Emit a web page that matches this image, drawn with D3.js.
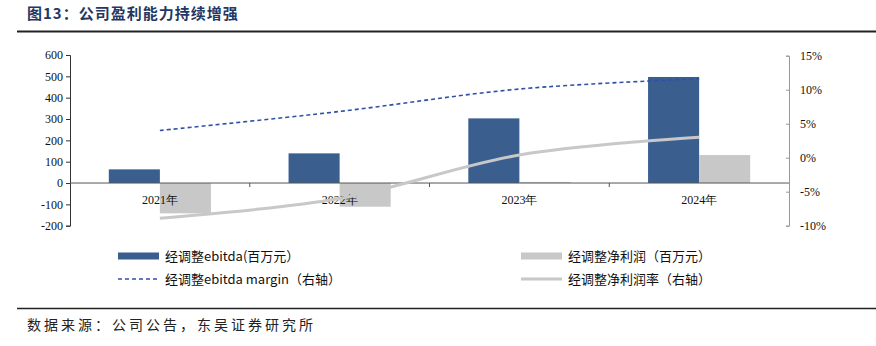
<!DOCTYPE html>
<html><head><meta charset="utf-8">
<script src="https://cdn.jsdelivr.net/npm/d3@7"></script>
<style>body{margin:0;background:#fff}svg{display:block}</style>
</head><body>
<svg id="c" width="876" height="346"></svg>
<script>
const categories = ["2021年","2022年","2023年","2024年"];
const ebitda = [64, 139, 303, 497];
const netProfit = [-142, -111, 5, 131];
const ebitdaMargin = [4.0, 6.8, 10.1, 11.6];
const netMargin = [-8.9, -6.0, 0.4, 3.0];
const leftTicks = [-200,-100,0,100,200,300,400,500,600];
const rightTicks = [-10,-5,0,5,10,15];

const svg = d3.select("#c");
const serif = "'Liberation Serif','Times New Roman',serif";
const cjk = "'Noto Sans CJK SC',sans-serif";
const L = 70, R = 789;
const y = d3.scaleLinear().domain([-200,600]).range([225.7,55]);
const y2 = d3.scaleLinear().domain([-10,15]).range([225.7,55.7]);
const x = d3.scaleBand().domain(categories).range([L,R]);
const inner = d3.scaleBand().domain(["a","b"]).range([0,x.bandwidth()]).paddingInner(0).paddingOuter(0.76);

// title
svg.append("text").attr("x",27).attr("y",19).attr("font-family",cjk).attr("font-weight","bold")
  .attr("font-size",15).attr("letter-spacing",1).attr("fill","#1f3864").text("图13：公司盈利能力持续增强");
svg.append("line").attr("x1",17).attr("x2",876).attr("y1",31.5).attr("y2",31.5).attr("stroke","#222").attr("stroke-width",2);
svg.append("line").attr("x1",17).attr("x2",876).attr("y1",308.5).attr("y2",308.5).attr("stroke","#222").attr("stroke-width",1.5);
svg.append("text").attr("x",27).attr("y",330).attr("font-family",cjk).attr("font-size",14).attr("letter-spacing",3).attr("fill","#222")
  .text("数据来源：公司公告，东吴证券研究所");

// bars
const g = svg.append("g");
g.selectAll(".e").data(ebitda).join("rect")
  .attr("x",(d,i)=>x(categories[i])+inner("a")).attr("width",inner.bandwidth())
  .attr("y",d=>y(Math.max(0,d))).attr("height",d=>Math.abs(y(d)-y(0))).attr("fill","#3a5f8f");
g.selectAll(".n").data(netProfit).join("rect")
  .attr("x",(d,i)=>x(categories[i])+inner("b")).attr("width",inner.bandwidth())
  .attr("y",d=>y(Math.max(0,d))).attr("height",d=>Math.max(1,Math.abs(y(d)-y(0)))).attr("fill","#c8c8c8");

// left axis
const la = svg.append("g").attr("transform",`translate(${L},0)`)
  .call(d3.axisLeft(y).tickValues(leftTicks).tickSize(4).tickPadding(3).tickFormat(d=>String(d)));
la.selectAll("path,line").attr("stroke","#333");
la.selectAll("text").attr("font-family",serif).attr("font-size",12).attr("fill","#111");

// right axis
const ra = svg.append("g").attr("transform",`translate(${R},0)`)
  .call(d3.axisRight(y2).tickValues(rightTicks).tickSize(-3).tickPadding(11).tickFormat(d=>String(d)+"%"));
ra.selectAll("path,line").attr("stroke","#999");
ra.selectAll("text").attr("font-family",serif).attr("font-size",12).attr("fill","#111");

// zero line + category ticks
svg.append("line").attr("x1",L).attr("x2",R).attr("y1",y(0)).attr("y2",y(0)).attr("stroke","#555").attr("stroke-width",1);
svg.selectAll(".ct").data(categories.slice(1)).join("line")
  .attr("x1",d=>x(d)).attr("x2",d=>x(d)).attr("y1",y(0)).attr("y2",y(0)+4).attr("stroke","#555");
svg.selectAll(".cl").data(categories).join("text")
  .attr("x",d=>x(d)+x.bandwidth()/2).attr("y",y(0)+21).attr("text-anchor","middle")
  .attr("font-family",serif).attr("font-size",12).attr("fill","#111").text(d=>d);

// lines
const cx = d => x(d)+x.bandwidth()/2;
const line = d3.line().x((d,i)=>cx(categories[i])).y(d=>y2(d)).curve(d3.curveCatmullRom.alpha(0.5));
svg.append("path").attr("d",line(netMargin)).attr("fill","none").attr("stroke","#c8c8c8").attr("stroke-width",3);
svg.append("path").attr("d",line(ebitdaMargin)).attr("fill","none").attr("stroke","#3050a8").attr("stroke-width",1.6).attr("stroke-dasharray","4,3");

// legend
const lg = svg.append("g");
const items = [
  {x:118,y:256,type:"rect",color:"#3a5f8f",label:"经调整ebitda(百万元）"},
  {x:521,y:256,type:"rect",color:"#c8c8c8",label:"经调整净利润（百万元）"},
  {x:118,y:279,type:"dash",color:"#3050a8",label:"经调整ebitda margin（右轴）"},
  {x:521,y:279,type:"line",color:"#c8c8c8",label:"经调整净利润率（右轴）"}
];
items.forEach(it=>{
  if(it.type==="rect") lg.append("rect").attr("x",it.x).attr("y",it.y-3.5).attr("width",41).attr("height",7).attr("fill",it.color);
  else if(it.type==="dash") lg.append("line").attr("x1",it.x).attr("x2",it.x+41).attr("y1",it.y).attr("y2",it.y).attr("stroke",it.color).attr("stroke-width",1.6).attr("stroke-dasharray","4,3");
  else lg.append("line").attr("x1",it.x).attr("x2",it.x+41).attr("y1",it.y).attr("y2",it.y).attr("stroke",it.color).attr("stroke-width",3);
  lg.append("text").attr("x",it.x+47).attr("y",it.y+4.5).attr("font-family",cjk+","+serif).attr("font-size",13).attr("fill","#111").text(it.label);
});
</script>
</body></html>
